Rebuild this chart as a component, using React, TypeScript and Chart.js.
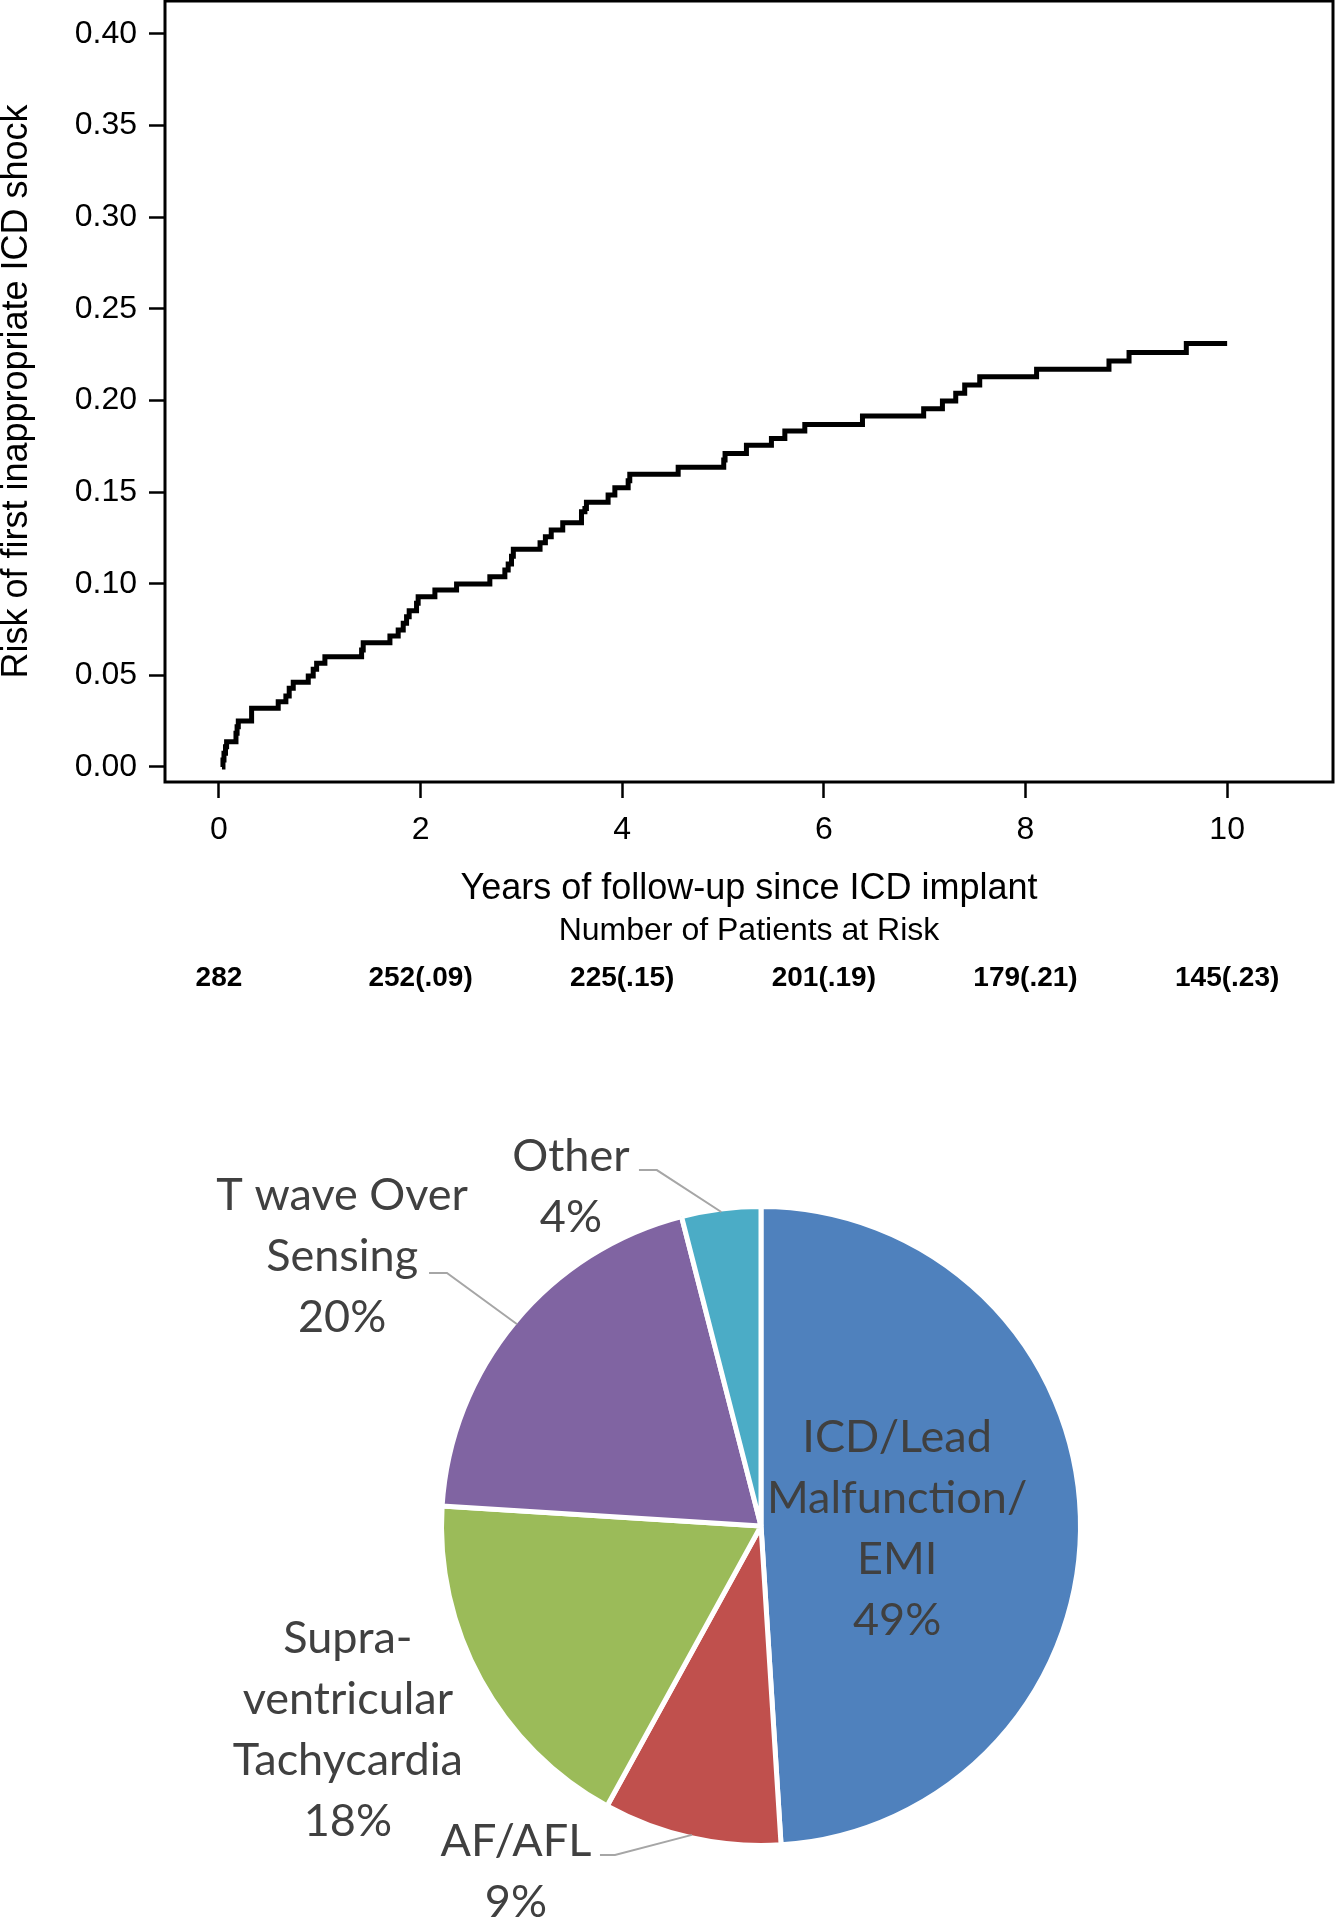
import React, { useEffect, useRef } from "react";
import { Chart, registerables } from "chart.js";

Chart.register(...registerables);

// ---------- Kaplan-Meier style cumulative risk curve ----------
const kmTimes = [
  0.03, 0.04, 0.05, 0.065, 0.076, 0.169, 0.18, 0.192, 0.324, 0.588, 0.664, 0.697,
  0.737, 0.886, 0.935, 0.969, 1.051, 1.415, 1.431, 1.696, 1.778, 1.828, 1.861,
  1.887, 1.96, 1.976, 2.142, 2.357, 2.687, 2.836, 2.869, 2.902, 2.92, 3.185,
  3.238, 3.296, 3.41, 3.596, 3.63, 3.645, 3.86, 3.927, 4.059, 4.075, 4.555,
  5.007, 5.02, 5.232, 5.48, 5.613, 5.811, 6.383, 6.99, 7.176, 7.308, 7.397,
  7.546, 8.11, 8.828, 9.027, 9.595, 10.0,
];
const kmRisk = [
  0.0, 0.0038, 0.0075, 0.011, 0.0138, 0.0184, 0.022, 0.0251, 0.032, 0.0356, 0.0387, 0.0429,
  0.0462, 0.0496, 0.0533, 0.0566, 0.0602, 0.0638, 0.0678, 0.0715, 0.0747, 0.0784, 0.082,
  0.0853, 0.0893, 0.0929, 0.0966, 0.0998, 0.1038, 0.1075, 0.1107, 0.115, 0.1188, 0.1224,
  0.1257, 0.1293, 0.1333, 0.1393, 0.1411, 0.1444, 0.1484, 0.1524, 0.1562, 0.1598, 0.1635,
  0.1675, 0.1711, 0.1755, 0.1793, 0.1833, 0.1869, 0.1915, 0.1955, 0.1997, 0.2039, 0.2084,
  0.2129, 0.2171, 0.2215, 0.2262, 0.2311, 0.2311,
];

const xTitle = "Years of follow-up since ICD implant";
const yTitle = "Risk of first inappropriate ICD shock";
const atRiskCaption = "Number of Patients at Risk";
const atRiskTimes = [0, 2, 4, 6, 8, 10];
const atRiskLabels = ["282", "252(.09)", "225(.15)", "201(.19)", "179(.21)", "145(.23)"];

// ---------- Pie of causes ----------
const pieCategories = [
  ["ICD/Lead", "Malfunction/", "EMI"],
  ["AF/AFL"],
  ["Supra-", "ventricular", "Tachycardia"],
  ["T wave Over", "Sensing"],
  ["Other"],
];
const pieValues = [49, 9, 18, 20, 4];
const pieColors = ["#4F81BD", "#C0504D", "#9BBB59", "#8064A2", "#4BACC6"];

// label layout (offsets relative to pie centre, in units of the outer radius)
const pieLabelLayout = [
  { tx: 0.426, ty: 0.009, leader: null as null | number[] },
  { tx: -0.767, ty: 1.083, leader: [-0.457, 1.03, -0.504, 1.03] },
  { tx: -1.293, ty: 0.638, leader: null },
  { tx: -1.311, ty: -0.842, leader: [-0.983, -0.792, -1.039, -0.792] },
  { tx: -0.595, ty: -1.061, leader: [-0.326, -1.114, -0.382, -1.114] },
];

const ARIAL = "'Liberation Sans', Arial, Helvetica, sans-serif";
const PIEFONT = "Lato, 'Open Sans', sans-serif";
const KM_H = 1010;
const AREA_BOTTOM = 782;
const AREA_LEFT = 165;

const framePlugin = {
  id: "frame",
  afterDraw(chart: any) {
    const { ctx, chartArea: a } = chart;
    ctx.save();
    ctx.strokeStyle = "#000";
    ctx.lineWidth = 3;
    ctx.strokeRect(a.left, a.top, a.right - a.left, a.bottom - a.top);
    ctx.restore();
  },
};

const atRiskPlugin = {
  id: "atRisk",
  afterDraw(chart: any) {
    const { ctx, chartArea: a } = chart;
    const xs = chart.scales.x;
    ctx.save();
    ctx.fillStyle = "#000";
    ctx.textAlign = "center";
    ctx.textBaseline = "middle";
    ctx.font = `32px ${ARIAL}`;
    ctx.fillText(atRiskCaption, (a.left + a.right) / 2, 931);
    ctx.font = `bold 28px ${ARIAL}`;
    atRiskTimes.forEach((t, i) => {
      ctx.fillText(atRiskLabels[i], xs.getPixelForValue(t), 978);
    });
    ctx.restore();
  },
};

const pieLabelPlugin = {
  id: "pieLabels",
  afterDatasetsDraw(chart: any) {
    const { ctx } = chart;
    const meta = chart.getDatasetMeta(0);
    const lineH = 61;
    meta.data.forEach((arc: any, i: number) => {
      const { x, y, outerRadius: R, startAngle, endAngle } = arc;
      const L = pieLabelLayout[i];
      ctx.save();
      if (L.leader) {
        const mid = (startAngle + endAngle) / 2;
        ctx.strokeStyle = "#A6A6A6";
        ctx.lineWidth = 2;
        ctx.beginPath();
        ctx.moveTo(x + Math.cos(mid) * (R - 3), y + Math.sin(mid) * (R - 3));
        ctx.lineTo(x + L.leader[0] * R, y + L.leader[1] * R);
        ctx.lineTo(x + L.leader[2] * R, y + L.leader[3] * R);
        ctx.stroke();
      }
      const lines = [...pieCategories[i], `${pieValues[i]}%`];
      const cx = x + L.tx * R;
      const cy = y + L.ty * R;
      ctx.fillStyle = "#404040";
      ctx.font = `45px ${PIEFONT}`;
      ctx.textAlign = "center";
      ctx.textBaseline = "middle";
      lines.forEach((ln, k) => {
        ctx.fillText(ln, cx, cy + (k - (lines.length - 1) / 2) * lineH);
      });
      ctx.restore();
    });
  },
};

export default function App() {
  const kmRef = useRef<HTMLCanvasElement>(null);
  const pieRef = useRef<HTMLCanvasElement>(null);

  useEffect(() => {
    const km = new Chart(kmRef.current as HTMLCanvasElement, {
      type: "line",
      data: {
        datasets: [
          {
            data: kmTimes.map((t, i) => ({ x: t, y: kmRisk[i] })),
            borderColor: "#000",
            borderWidth: 5,
            pointRadius: 0,
            stepped: "before",
            fill: false,
            borderCapStyle: "butt",
            borderJoinStyle: "miter",
          } as any,
        ],
      },
      options: {
        responsive: false,
        animation: false,
        devicePixelRatio: 1,
        layout: { padding: { top: 1, right: 3, left: 0, bottom: 0 } },
        plugins: { legend: { display: false }, tooltip: { enabled: false } },
        scales: {
          x: {
            type: "linear",
            position: "bottom",
            min: -0.535,
            max: 11.05,
            ticks: {
              stepSize: 2,
              includeBounds: false,
              autoSkip: false,
              maxRotation: 0,
              padding: 13,
              color: "#000",
              font: { family: ARIAL, size: 32 },
              callback: (v: any) => String(v),
            },
            grid: {
              drawOnChartArea: false,
              drawTicks: true,
              tickLength: 16,
              tickWidth: 2.5,
              tickColor: "#000",
            },
            border: { display: false },
            title: {
              display: true,
              text: xTitle,
              color: "#000",
              font: { family: ARIAL, size: 36 },
              padding: { top: 0, bottom: 99 },
            },
            afterFit: (s: any) => {
              s.height = KM_H - AREA_BOTTOM;
              s.paddingLeft = 0;
              s.paddingRight = 0;
            },
          } as any,
          y: {
            type: "linear",
            min: -0.0082,
            max: 0.418,
            ticks: {
              stepSize: 0.05,
              includeBounds: false,
              padding: 12,
              color: "#000",
              font: { family: ARIAL, size: 32 },
              callback: (v: any) => Number(v).toFixed(2),
            },
            grid: {
              drawOnChartArea: false,
              drawTicks: true,
              tickLength: 16,
              tickWidth: 2.5,
              tickColor: "#000",
            },
            border: { display: false },
            title: {
              display: true,
              text: yTitle,
              color: "#000",
              font: { family: ARIAL, size: 36, lineHeight: 1 },
              padding: { top: -1, bottom: 0 },
            },
            afterFit: (s: any) => {
              s.width = AREA_LEFT;
              s.paddingTop = 0;
              s.paddingBottom = 0;
            },
          } as any,
        },
      },
      plugins: [framePlugin, atRiskPlugin],
    });

    const pie = new Chart(pieRef.current as HTMLCanvasElement, {
      type: "pie",
      data: {
        labels: pieCategories.map((c) => c.join(" ")),
        datasets: [
          {
            data: pieValues,
            backgroundColor: pieColors,
            borderColor: "#ffffff",
            borderWidth: 5,
          },
        ],
      },
      options: {
        responsive: false,
        animation: false,
        devicePixelRatio: 1,
        layout: { padding: { left: 439, top: 154, right: 253, bottom: 72 } },
        plugins: { legend: { display: false }, tooltip: { enabled: false } },
      },
      plugins: [pieLabelPlugin],
    });

    return () => {
      km.destroy();
      pie.destroy();
    };
  }, []);

  return (
    <div
      style={{
        position: "absolute",
        left: 0,
        top: 0,
        width: 1336,
        height: 1920,
        background: "#ffffff",
        overflow: "hidden",
      }}
    >
      <canvas
        ref={kmRef}
        width={1336}
        height={KM_H}
        style={{ position: "absolute", left: 0, top: 0, width: 1336, height: KM_H }}
      />
      <canvas
        ref={pieRef}
        width={1336}
        height={870}
        style={{ position: "absolute", left: 0, top: 1050, width: 1336, height: 870 }}
      />
    </div>
  );
}
